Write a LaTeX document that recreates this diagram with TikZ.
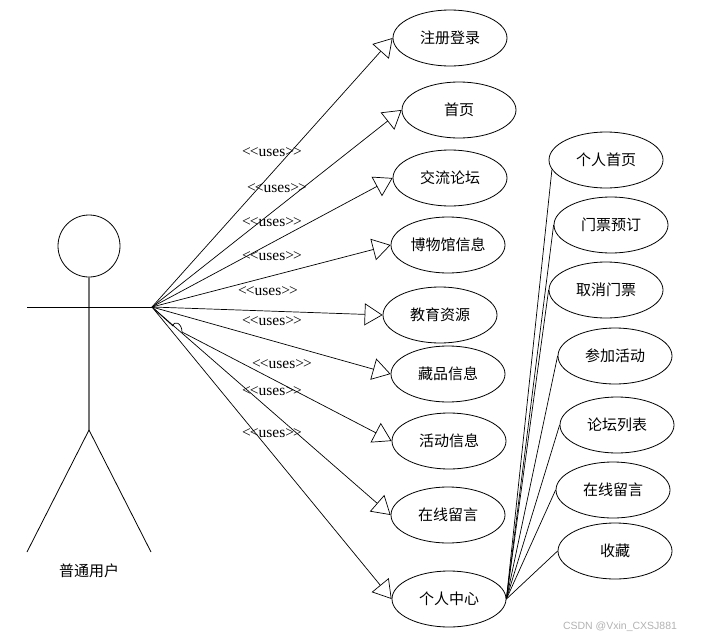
\documentclass[tikz,border=0pt]{standalone}
\usepackage{fontspec}
\setmainfont{Liberation Serif}
\newfontfamily\cjk{Noto Sans CJK SC}
\newfontfamily\wmfont{Liberation Sans}
\usetikzlibrary{shapes.geometric,arrows.meta}
\begin{document}
\begin{tikzpicture}[x=1pt,y=-1pt,
  uc/.style={ellipse,draw,line width=0.8pt,minimum width=114pt,minimum height=56pt,inner sep=0pt,font=\cjk\fontsize{15}{18}\selectfont},
  link/.style={draw,line width=0.7pt},
  gen/.style={link,-{Triangle[open,length=18pt,width=22pt]}},
  uses/.style={font=\fontsize{15.5}{18}\selectfont,inner sep=0pt}]
\useasboundingbox (0,0) rectangle (702,640);
% use cases, left column
\node[uc] (l1) at (450,38) {注册登录};
\node[uc] (l2) at (459,110) {首页};
\node[uc] (l3) at (450,178) {交流论坛};
\node[uc] (l4) at (448,245) {博物馆信息};
\node[uc] (l5) at (440,315) {教育资源};
\node[uc] (l6) at (448,374) {藏品信息};
\node[uc] (l7) at (449,441) {活动信息};
\node[uc] (l8) at (448,515) {在线留言};
\node[uc] (l9) at (449,599) {个人中心};
% right column
\node[uc] (r1) at (606,160) {个人首页};
\node[uc] (r2) at (611,225) {门票预订};
\node[uc] (r3) at (606,290) {取消门票};
\node[uc] (r4) at (615,356) {参加活动};
\node[uc] (r5) at (617,425) {论坛列表};
\node[uc] (r6) at (613,490) {在线留言};
\node[uc] (r7) at (615,551) {收藏};
% actor
\node[circle,draw,line width=0.8pt,minimum size=62pt,inner sep=0pt] (head) at (89,246) {};
\coordinate (hub) at (152,307);
\coordinate (lhand) at (27,307);
\coordinate (hip) at (89,430);
\coordinate (lfoot) at (27,552);
\coordinate (rfoot) at (151,552);
\draw[line width=1.5pt,black!55] (head.south) -- (hip);
\draw[line width=0.9pt] (lhand) -- (hub);
\draw[line width=0.8pt] (hip) -- (lfoot);
\draw[line width=0.8pt] (hip) -- (rfoot);
\node[font=\cjk\fontsize{15}{18}\selectfont] (actor) at (89,571) {普通用户};
% connectors actor -> use cases
\draw[gen] (hub) -- (l1.west);
\draw[gen] (hub) -- (l2.west);
\draw[gen] (hub) -- (l3.west);
\draw[gen] (hub) -- (l4.west);
\draw[gen] (hub) -- (l5.west);
\draw[gen] (hub) -- (l6.west);
\coordinate (hopA) at (173,326);
\coordinate (hopB) at (182,332);
\draw[gen] (hub) -- (hopA) .. controls (174,320) and (182,323) .. (hopB) -- (l7.west);
\draw[gen] (hub) -- (l8.west);
\draw[gen] (hub) -- (l9.west);
% labels
\node[uses] (u1) at (272,152) {<\kern-1pt<uses>\kern-1pt>};
\node[uses] (u2) at (277,188) {<\kern-1pt<uses>\kern-1pt>};
\node[uses] (u3) at (272,222) {<\kern-1pt<uses>\kern-1pt>};
\node[uses] (u4) at (272,256) {<\kern-1pt<uses>\kern-1pt>};
\node[uses] (u5) at (268,291) {<\kern-1pt<uses>\kern-1pt>};
\node[uses] (u6) at (272,321) {<\kern-1pt<uses>\kern-1pt>};
\node[uses] (u7) at (282,364) {<\kern-1pt<uses>\kern-1pt>};
\node[uses] (u8) at (272,391) {<\kern-1pt<uses>\kern-1pt>};
\node[uses] (u9) at (272,433) {<\kern-1pt<uses>\kern-1pt>};
% personal centre -> sub use cases
\draw[link] (l9.east) -- (r1.190);
\draw[link] (l9.east) -- (r2.west);
\draw[link] (l9.east) -- (r3.west);
\draw[link] (l9.east) -- (r4.west);
\draw[link] (l9.east) -- (r5.west);
\draw[link] (l9.east) -- (r6.west);
\draw[link] (l9.east) -- (r7.west);
% watermark
\node[font=\wmfont\fontsize{10.5}{12}\selectfont,text=black!30] (wm) at (620,627) {CSDN @Vxin\_CXSJ881};
\end{tikzpicture}
\end{document}
